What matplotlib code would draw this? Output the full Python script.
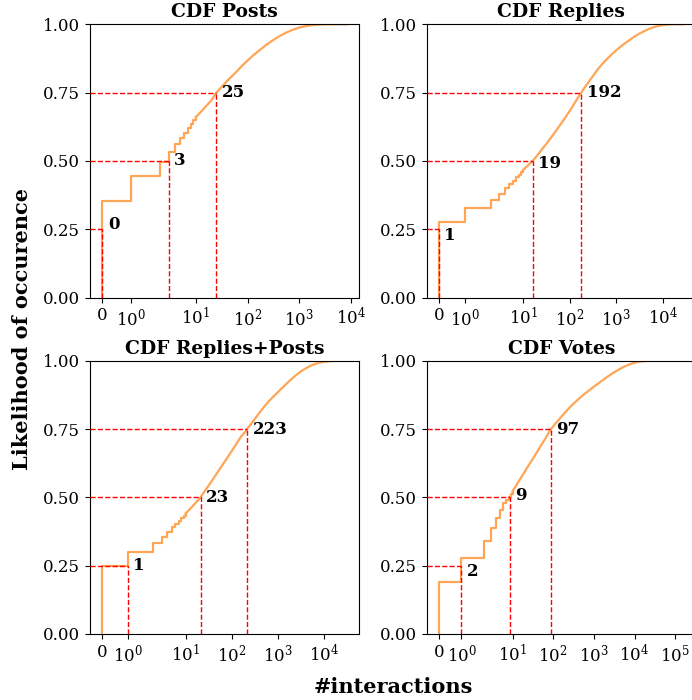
import numpy as np
import matplotlib
matplotlib.use("Agg")
import matplotlib.pyplot as plt

plt.rcParams['font.family'] = ['DejaVu Serif']
plt.rcParams['mathtext.fontset'] = 'dejavuserif'

# ---------------- data ----------------
titles = ['CDF Posts', 'CDF Replies', 'CDF Replies+Posts', 'CDF Votes']

# empirical CDF at the small integer values (stair part)
posts_step_x = [0, 1, 2, 3, 4, 5, 6, 7, 8, 9, 10]
posts_step_y = [0.355, 0.445, 0.495, 0.532, 0.561, 0.583, 0.603, 0.620, 0.634, 0.648, 0.660]
posts_tail_x = [10, 13, 17, 20, 25, 32, 40, 50, 65, 80, 100, 130, 170, 220, 300, 400,
                550, 750, 1000, 1400, 2000, 3000, 5000, 8400]
posts_tail_y = [0.660, 0.683, 0.707, 0.722, 0.750, 0.772, 0.792, 0.810, 0.832, 0.850, 0.867,
                0.887, 0.905, 0.922, 0.940, 0.955, 0.969, 0.980, 0.988, 0.994, 0.998,
                0.9995, 1.000, 1.000]

replies_step_x = [0, 1, 2, 3, 4, 5, 6, 7, 8, 9, 10]
replies_step_y = [0.278, 0.327, 0.357, 0.380, 0.400, 0.415, 0.428, 0.440, 0.450, 0.459, 0.467]
replies_tail_x = [10, 13, 16, 20, 25, 32, 40, 50, 63, 80, 100, 126, 158, 178, 200, 250,
                  316, 400, 500, 630, 800, 1000, 1260, 1580, 2000, 2500, 3160, 4000, 5000,
                  6300, 8000, 10000, 13000, 18000, 28200]
replies_tail_y = [0.467, 0.485, 0.500, 0.520, 0.541, 0.564, 0.586, 0.609, 0.633, 0.658,
                  0.683, 0.710, 0.738, 0.750, 0.764, 0.787, 0.811, 0.835, 0.855, 0.873,
                  0.890, 0.905, 0.919, 0.932, 0.944, 0.956, 0.966, 0.975, 0.983, 0.989,
                  0.994, 0.997, 0.999, 1.000, 1.000]

rp_step_x = [0, 1, 2, 3, 4, 5, 6, 7, 8, 9, 10]
rp_step_y = [0.250, 0.301, 0.334, 0.356, 0.375, 0.391, 0.403, 0.414, 0.424, 0.433, 0.441]
rp_tail_x = [10, 14, 21, 25, 32, 40, 50, 63, 80, 100, 126, 158, 200, 215, 250, 316, 400,
             500, 630, 800, 1000, 1260, 1580, 2000, 2500, 3160, 4000, 5000, 6300, 8000,
             10000, 13000, 18000, 31700]
rp_tail_y = [0.441, 0.467, 0.500, 0.519, 0.545, 0.569, 0.594, 0.619, 0.645, 0.670, 0.696,
             0.722, 0.742, 0.750, 0.764, 0.787, 0.810, 0.831, 0.851, 0.869, 0.885, 0.902,
             0.918, 0.934, 0.948, 0.961, 0.972, 0.981, 0.988, 0.993, 0.996, 0.998,
             1.000, 1.000]

votes_step_x = [0, 1, 2, 3, 4, 5, 6, 7, 8, 9, 10]
votes_step_y = [0.191, 0.278, 0.341, 0.389, 0.426, 0.454, 0.478, 0.490, 0.500, 0.512, 0.522]
votes_tail_x = [10, 12.6, 15.8, 20, 25, 32, 40, 50, 63, 80, 88, 100, 126, 158, 200, 250,
                316, 400, 500, 630, 800, 1000, 1260, 1580, 2000, 2500, 3160, 4000, 5000,
                6300, 8000, 10000, 13000, 16000, 20000, 30000, 162600]
votes_tail_y = [0.522, 0.546, 0.570, 0.594, 0.618, 0.642, 0.666, 0.690, 0.713, 0.740,
                0.750, 0.760, 0.778, 0.795, 0.812, 0.828, 0.843, 0.857, 0.870, 0.882,
                0.894, 0.905, 0.916, 0.927, 0.938, 0.948, 0.958, 0.967, 0.975, 0.982,
                0.988, 0.993, 0.996, 0.998, 0.9995, 1.000, 1.000]

step_xs = [posts_step_x, replies_step_x, rp_step_x, votes_step_x]
step_ys = [posts_step_y, replies_step_y, rp_step_y, votes_step_y]
tail_xs = [posts_tail_x, replies_tail_x, rp_tail_x, votes_tail_x]
tail_ys = [posts_tail_y, replies_tail_y, rp_tail_y, votes_tail_y]

# quartile markers: level, x position of dashed line, label text, label y
quart_levels = [0.25, 0.50, 0.75]
posts_q_x = [0, 3, 25]
replies_q_x = [0, 16, 178]
rp_q_x = [1, 21, 215]
votes_q_x = [1, 8.5, 88]
q_xs = [posts_q_x, replies_q_x, rp_q_x, votes_q_x]

posts_q_lab = ['0', '3', '25']
replies_q_lab = ['1', '19', '192']
rp_q_lab = ['1', '23', '223']
votes_q_lab = ['2', '9', '97']
q_labs = [posts_q_lab, replies_q_lab, rp_q_lab, votes_q_lab]

posts_lab_y = [0.268, 0.50, 0.75]
replies_lab_y = [0.228, 0.49, 0.75]
rp_lab_y = [0.25, 0.50, 0.75]
votes_lab_y = [0.228, 0.508, 0.75]
lab_ys = [posts_lab_y, replies_lab_y, rp_lab_y, votes_lab_y]

# ---------------- figure ----------------
fig, axes = plt.subplots(2, 2, figsize=(6.92, 7.0), dpi=100)
fig.subplots_adjust(left=0.130, right=1.0058, top=0.9653, bottom=0.0943,
                    wspace=0.25, hspace=0.2315)

orange = (1.0, 0.647, 0.337)

for i, ax in enumerate(axes.flat):
    sx = [step_xs[i][0]] + list(step_xs[i])
    sy = [0.0] + list(step_ys[i])
    ax.step(sx, sy, where='post', color=orange, lw=1.6, zorder=2)
    ax.plot(tail_xs[i], tail_ys[i], color=orange, lw=1.6, zorder=2)
    ax.set_xscale('symlog')
    ax.set_ylim(0, 1)
    ax.set_yticks([0, 0.25, 0.5, 0.75, 1.0])
    ax.autoscale_view()
    xl = ax.get_xlim()
    for lvl, qx, lab, ly in zip(quart_levels, q_xs[i], q_labs[i], lab_ys[i]):
        ax.plot([xl[0], qx], [lvl, lvl], color='red', ls='--', lw=1.0, zorder=3)
        ax.plot([qx, qx], [0, lvl], color='red', ls='--', lw=1.0, zorder=3)
        ax.annotate(lab, xy=(qx, ly), xytext=(4, 0), textcoords='offset points',
                    ha='left', va='center', fontsize=12, fontweight='bold')
    ax.set_xlim(xl)
    ax.set_title(titles[i], fontsize=13.5, fontweight='bold', pad=5)
    ax.tick_params(labelsize=12)

fig.text(0.569, 0.018, '#interactions', ha='center', va='center',
         fontsize=15, fontweight='bold')
fig.text(0.032, 0.53, 'Likelihood of occurence', ha='center', va='center',
         rotation=90, fontsize=15, fontweight='bold')

fig.savefig('out.png', dpi=100)
